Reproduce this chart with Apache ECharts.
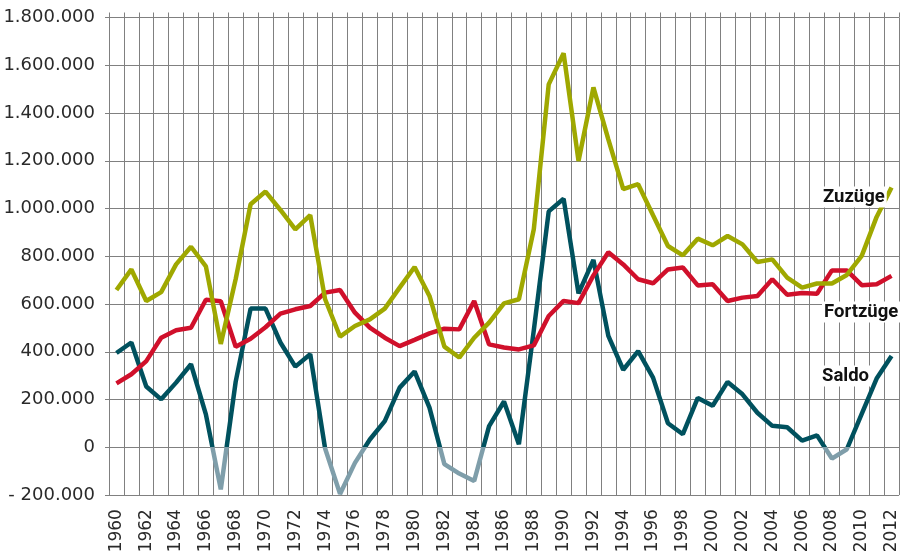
<!DOCTYPE html>
<html>
<head>
<meta charset="utf-8">
<script src="https://cdn.jsdelivr.net/npm/echarts@6/dist/echarts.min.js"></script>
<style>
  html, body { margin: 0; padding: 0; background: #fff; }
  #chart { width: 900px; height: 556px; }
</style>
</head>
<body>
<div id="chart"></div>
<script>
// years 1960 - 2012
const years = []
for (let y = 1960; y <= 2012; y++) years.push(String(y))

// values in thousands
const zuzuege = [659, 745, 613, 650, 766, 840, 758, 433, 705, 1018,
  1071, 994, 913, 972, 620, 464, 508, 536, 581, 669,
  755, 634, 422, 376, 459, 522, 603, 620, 913, 1520,
  1650, 1199, 1507, 1290, 1081, 1102, 972, 843, 804, 874,
  846, 885, 850, 776, 787, 711, 669, 686, 686, 722,
  802, 965, 1088]
const fortzuege = [268, 306, 361, 459, 490, 501, 618, 612, 421, 455,
  503, 560, 578, 592, 648, 659, 564, 501, 459, 424,
  450, 477, 497, 494, 613, 431, 418, 410, 427, 550,
  613, 604, 720, 817, 766, 704, 687, 745, 753, 678,
  683, 613, 627, 634, 704, 639, 646, 643, 741, 741,
  679, 683, 718]
const saldo = [395, 439, 255, 201, 271, 348, 138, -176, 275, 581,
  581, 439, 338, 390, -5, -195, -65, 33, 110, 250,
  318, 166, -70, -110, -141, 89, 192, 13, 490, 988,
  1041, 645, 785, 467, 325, 403, 292, 101, 55, 207,
  174, 274, 222, 145, 90, 84, 28, 50, -47, -8,
  140, 288, 382]

const seriesNames = ['Saldo', 'Fortzüge', 'Zuzüge']

const grey = '#808080'
const k = arr => arr.map(v => v * 1000)

function fmt(v) {
  if (v === 0) return '0'
  const s = Math.abs(v).toString().replace(/\B(?=(\d{3})+(?!\d))/g, '.')
  return (v < 0 ? '- ' : '') + s
}

const chart = echarts.init(document.getElementById('chart'))

const label = (text, x, y) => ({
  type: 'text',
  x: x,
  y: y,
  z: 100,
  style: {
    text: text,
    font: 'bold 18.5px Roboto',
    fill: '#111',
    textVerticalAlign: 'middle',
    backgroundColor: '#fff',
    padding: [1, 2]
  }
})

chart.setOption({
  animation: false,
  backgroundColor: '#fff',
  grid: { left: 109, right: -2.4, top: 17.5, bottom: 60.9 },
  xAxis: [
    {
      type: 'category',
      data: years,
      boundaryGap: true,
      axisLine: { show: true, lineStyle: { color: grey, width: 1 } },
      axisTick: { show: true, length: 7, interval: 0, lineStyle: { color: grey } },
      axisLabel: {
        interval: 1,
        rotate: 90,
        margin: 14,
        fontFamily: 'DejaVu Sans',
        fontSize: 17,
        color: '#2a2a2a'
      },
      splitLine: { show: true, interval: 0, lineStyle: { color: grey, width: 1 } }
    },
    {
      type: 'category',
      data: years,
      position: 'top',
      boundaryGap: true,
      axisLine: { show: false },
      axisTick: { show: true, length: 5, interval: 0, lineStyle: { color: grey } },
      axisLabel: { show: false },
      splitLine: { show: false }
    }
  ],
  yAxis: {
    type: 'value',
    min: -200000,
    max: 1800000,
    interval: 200000,
    axisLine: { show: true, lineStyle: { color: grey } },
    axisTick: { show: true, length: 4, lineStyle: { color: grey } },
    axisLabel: {
      margin: 14,
      fontFamily: 'DejaVu Sans',
      fontSize: 18,
      color: '#2a2a2a',
      formatter: fmt
    },
    splitLine: { show: true, lineStyle: { color: grey, width: 1 } }
  },
  visualMap: {
    show: false,
    type: 'piecewise',
    seriesIndex: 0,
    dimension: 1,
    pieces: [
      { gte: -200000, lt: 0, color: '#7f9eaa' },
      { gte: 0, lte: 1800000, color: '#00515e' }
    ],
    outOfRange: { color: '#00515e' }
  },
  series: [
    {
      name: seriesNames[0],
      type: 'line',
      data: k(saldo),
      symbol: 'none',
      lineStyle: { width: 4.5 }
    },
    {
      name: seriesNames[1],
      type: 'line',
      data: k(fortzuege),
      symbol: 'none',
      lineStyle: { width: 4.5, color: '#d0102b' },
      itemStyle: { color: '#d0102b' }
    },
    {
      name: seriesNames[2],
      type: 'line',
      data: k(zuzuege),
      symbol: 'none',
      lineStyle: { width: 4.5, color: '#9fa800' },
      itemStyle: { color: '#9fa800' }
    }
  ],
  graphic: [
    label('Zuzüge', 821, 197),
    label('Fortzüge', 822, 312),
    label('Saldo', 820, 376)
  ]
})
</script>
</body>
</html>
